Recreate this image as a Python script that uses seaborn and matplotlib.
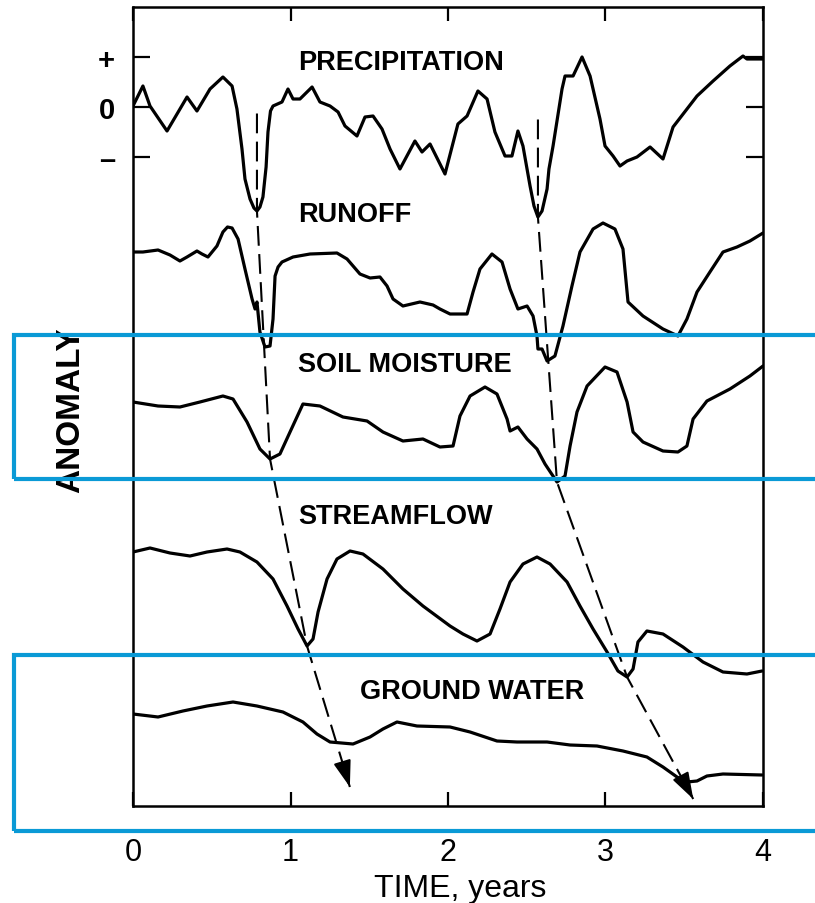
import matplotlib
matplotlib.use("Agg")
import matplotlib.pyplot as plt
from matplotlib.patches import Rectangle
import numpy as np
import pandas as pd
import seaborn as sns

# ---- anomaly traces: time in years, anomaly in relative units -------------
precip_t = [0.00, 0.063, 0.108, 0.216, 0.343, 0.406, 0.489, 0.571, 0.629, 0.660,
            0.692, 0.711, 0.743, 0.768, 0.787, 0.806, 0.825, 0.845, 0.857, 0.873,
            0.889, 0.946, 0.984, 1.016, 1.060,
            1.137, 1.187, 1.251, 1.302, 1.346, 1.422, 1.473, 1.524, 1.581, 1.632,
            1.695, 1.790, 1.835, 1.886, 1.981, 2.063, 2.121, 2.190, 2.248, 2.298,
            2.362, 2.406, 2.444, 2.476, 2.521, 2.546, 2.571, 2.597, 2.629, 2.641,
            2.667, 2.724, 2.743,
            2.794, 2.851, 2.902, 2.965, 2.997, 3.048, 3.092, 3.137, 3.200, 3.283,
            3.365, 3.429, 3.581, 3.683, 3.790, 3.873, 3.898, 4.000]
precip_v = [0.02, 0.42, 0.02, -0.48, 0.20, -0.08, 0.36, 0.60, 0.42, -0.04,
            -0.84, -1.44, -1.84, -2.02, -2.08, -2.00, -1.80, -1.20, -0.50, -0.08,
            0.02, 0.10, 0.36, 0.16, 0.16,
            0.40, 0.10, 0.02, -0.10, -0.38, -0.58, -0.20, -0.18, -0.44, -0.84,
            -1.24, -0.68, -0.90, -0.74, -1.34, -0.34, -0.18, 0.32, 0.16, -0.50,
            -0.98, -0.98, -0.48, -0.78, -1.58, -1.98, -2.20, -2.08, -1.64, -1.24,
            -0.78, 0.36, 0.62,
            0.62, 1.00, 0.62, -0.24, -0.78, -0.98, -1.18, -1.08, -1.00, -0.80,
            -1.04, -0.40, 0.22, 0.52, 0.82, 1.02, 0.96, 0.96]

runoff_t = [0.00, 0.063, 0.159, 0.235, 0.298, 0.343, 0.406, 0.438, 0.476, 0.533,
            0.571, 0.600, 0.629, 0.667, 0.711, 0.756, 0.775, 0.787, 0.806, 0.838, 0.870,
            0.889, 0.902, 0.921, 0.946, 1.016, 1.124, 1.295, 1.359, 1.441, 1.505, 1.568,
            1.613, 1.651, 1.714, 1.822, 1.905, 1.949, 2.013, 2.121, 2.159, 2.203,
            2.279, 2.343, 2.394, 2.444, 2.502, 2.540, 2.565, 2.571, 2.597, 2.629,
            2.679, 2.730, 2.787, 2.838, 2.921, 2.984, 3.060, 3.111, 3.143, 3.238,
            3.365, 3.460, 3.517, 3.581, 3.663, 3.746, 3.835, 3.917, 4.000]
runoff_v = [0.00, 0.00, 0.04, -0.06, -0.18, -0.10, 0.02, -0.04, -0.10, 0.12,
            0.40, 0.50, 0.48, 0.26, -0.34, -0.94, -1.14, -1.00, -1.60, -1.90, -1.88,
            -1.34, -0.48, -0.30, -0.20, -0.10, -0.04, -0.02, -0.14, -0.44, -0.52, -0.50,
            -0.68, -0.94, -1.08, -1.00, -1.06, -1.14, -1.24, -1.24, -0.80, -0.34,
            -0.04, -0.20, -0.74, -1.14, -1.08, -1.28, -1.68, -1.94, -1.94, -2.18,
            -2.08, -1.48, -0.68, 0.00, 0.46, 0.58, 0.46, 0.06, -1.00, -1.28,
            -1.54, -1.68, -1.34, -0.80, -0.40, 0.00, 0.10, 0.22, 0.38]

soil_t = [0.00, 0.159, 0.298, 0.425, 0.571, 0.635, 0.724, 0.806, 0.870, 0.933,
          0.997, 1.079, 1.187, 1.333, 1.486, 1.587, 1.714, 1.841, 1.949, 2.032,
          2.076, 2.140, 2.235, 2.311, 2.375, 2.394, 2.444, 2.502, 2.565, 2.616,
          2.692, 2.743, 2.775, 2.819, 2.883, 2.997, 3.073, 3.137, 3.175, 3.238,
          3.365, 3.460, 3.517, 3.556, 3.644, 3.790, 3.917, 4.000]
soil_v = [0.00, -0.08, -0.10, 0.00, 0.12, 0.06, -0.40, -0.94, -1.14, -1.04,
          -0.60, -0.04, -0.08, -0.30, -0.38, -0.60, -0.78, -0.74, -0.90, -0.88,
          -0.28, 0.12, 0.30, 0.16, -0.34, -0.58, -0.50, -0.74, -0.94, -1.24,
          -1.60, -1.48, -0.88, -0.20, 0.32, 0.70, 0.60, 0.00, -0.60, -0.80,
          -0.98, -1.00, -0.88, -0.34, 0.02, 0.26, 0.52, 0.72]

stream_t = [0.00, 0.108, 0.235, 0.362, 0.470, 0.597, 0.679, 0.787, 0.889, 0.978,
            1.048, 1.105, 1.143, 1.175, 1.232, 1.295, 1.378, 1.460, 1.587, 1.714,
            1.841, 2.013, 2.095, 2.184, 2.267, 2.330, 2.394, 2.476, 2.565, 2.648,
            2.756, 2.838, 2.921, 3.010, 3.079, 3.137, 3.175, 3.206, 3.263, 3.365,
            3.492, 3.619, 3.746, 3.898, 3.994]
stream_v = [0.00, 0.08, -0.02, -0.08, 0.00, 0.06, 0.00, -0.20, -0.54, -1.08,
            -1.54, -1.88, -1.74, -1.20, -0.54, -0.14, 0.02, -0.04, -0.34, -0.74,
            -1.08, -1.48, -1.64, -1.78, -1.64, -1.14, -0.60, -0.24, -0.10, -0.24,
            -0.60, -1.08, -1.54, -2.00, -2.38, -2.50, -2.34, -1.80, -1.58, -1.64,
            -1.90, -2.20, -2.40, -2.44, -2.38]

ground_t = [0.00, 0.159, 0.317, 0.470, 0.635, 0.787, 0.952, 1.079, 1.168, 1.251,
            1.397, 1.505, 1.587, 1.676, 1.803, 2.013, 2.140, 2.311, 2.438, 2.629,
            2.775, 2.946, 3.111, 3.263, 3.365, 3.454, 3.517, 3.581, 3.644, 3.746,
            3.994]
ground_v = [0.00, -0.06, 0.06, 0.16, 0.24, 0.16, 0.04, -0.16, -0.40, -0.56,
            -0.60, -0.46, -0.30, -0.16, -0.24, -0.26, -0.36, -0.54, -0.56, -0.56,
            -0.62, -0.64, -0.74, -0.86, -1.06, -1.26, -1.36, -1.34, -1.24, -1.20,
            -1.22]

series_names = ["PRECIPITATION", "RUNOFF", "SOIL MOISTURE", "STREAMFLOW", "GROUND WATER"]
series_t = [precip_t, runoff_t, soil_t, stream_t, ground_t]
series_v = [precip_v, runoff_v, soil_v, stream_v, ground_v]

x_ticks = [0, 1, 2, 3, 4]
x_tick_labels = ["0", "1", "2", "3", "4"]
y_ticks = [1, 0, -1]
y_tick_labels = ["+", "0", "\u2013"]

# drought episodes followed through the hydrologic chain
drought_windows = [(0.6, 1.5), (2.5, 3.7)]

# ---- layout ----------------------------------------------------------------
offsets = [0.0, -2.9, -5.9, -8.9, -12.14]        # vertical stacking of traces
label_x = [1.048, 1.048, 1.048, 1.048, 1.441]    # left edge of trace titles
label_dy = [0.96, 0.80, 0.82, 0.76, 0.50]        # title centre above trace base
tip_shift = [(-0.02, -0.86), (0.04, -0.34)]      # arrow tip beyond ground-water low
BLUE = "#0a9ad6"

sns.set_style("ticks")
plt.rcParams["font.family"] = ["Liberation Sans", "DejaVu Sans"]
plt.rcParams.update({"text.color": "black", "axes.labelcolor": "black",
                     "xtick.color": "black", "ytick.color": "black",
                     "axes.edgecolor": "black"})

frames = []
for name, t, v, off in zip(series_names, series_t, series_v, offsets):
    frames.append(pd.DataFrame({"t": t, "y": np.asarray(v) + off, "series": name}))
df = pd.concat(frames, ignore_index=True)

fig = plt.figure(figsize=(8.15, 9.04), dpi=100)
ax = fig.add_axes([133 / 815, 97 / 904, 630 / 815, 799 / 904])

sns.lineplot(data=df, x="t", y="y", hue="series", hue_order=series_names,
             palette={n: "black" for n in series_names}, estimator=None,
             sort=False, legend=False, linewidth=2.3, ax=ax)
for line in ax.get_lines():
    line.set_solid_joinstyle("round")
    line.set_solid_capstyle("round")

# trace titles
for name, lx, dy, off in zip(series_names, label_x, label_dy, offsets):
    ax.text(lx, off + dy - 0.19, name, fontsize=19.5, fontweight="bold",
            ha="left", va="baseline")

# dashed lag arrows joining the successive lows of each drought
for (lo, hi), (sx, sy) in zip(drought_windows, tip_shift):
    lows = []
    for t, v, off in zip(series_t, series_v, offsets):
        t = np.asarray(t)
        v = np.asarray(v)
        m = (t >= lo) & (t <= hi)
        i = np.argmin(v[m])
        lows.append((t[m][i], v[m][i] + off))
    p, r, s, st, g = lows
    tip = (g[0] + sx, g[1] + sy)
    xs = [p[0], p[0], s[0], st[0], tip[0]]
    ys = [p[1] + 1.95, p[1], s[1], st[1], tip[1]]
    ax.plot(xs, ys, color="black", linewidth=1.5, linestyle=(0, (9.5, 4.0)),
            dash_capstyle="butt")
    back = (tip[0] - 0.12 * (tip[0] - st[0]), tip[1] - 0.12 * (tip[1] - st[1]))
    ax.annotate("", xy=tip, xytext=back,
                arrowprops=dict(arrowstyle="-|>,head_length=0.9,head_width=0.3",
                                mutation_scale=18, color="black", lw=1.5,
                                shrinkA=0, shrinkB=0))

ax.set_xlim(0, 4)
ax.set_ylim(-13.98, 2.0)
ax.set_xticks(x_ticks)
ax.set_xticklabels(x_tick_labels, fontsize=22)
ax.set_yticks(y_ticks)
ax.set_yticklabels(y_tick_labels, fontsize=21, fontweight="bold")
ax.tick_params(axis="x", direction="in", length=10, width=1.6, pad=22,
               top=True, bottom=True, colors="black")
ax.tick_params(axis="y", direction="in", length=12, width=1.6, pad=13,
               left=True, right=True, colors="black")
for sp in ax.spines.values():
    sp.set_visible(True)
    sp.set_linewidth(1.8)
    sp.set_color("black")

ax.set_xlabel("TIME, years", fontsize=23, color="black")
ax.xaxis.set_label_coords(0.519, -0.084)
ax.set_ylabel("ANOMALY", fontsize=24, fontweight="bold", color="black")
ax.yaxis.set_label_coords(-0.075, 0.497)

# highlight frames
for y_top, y_bot in [(336, 480), (656, 832)]:
    fig.patches.append(Rectangle((14 / 815, (904 - y_bot) / 904), 1.2,
                                 (y_bot - y_top) / 904, transform=fig.transFigure,
                                 fill=False, edgecolor=BLUE, linewidth=3.0,
                                 zorder=10, figure=fig))

fig.savefig("out.png", dpi=100)
